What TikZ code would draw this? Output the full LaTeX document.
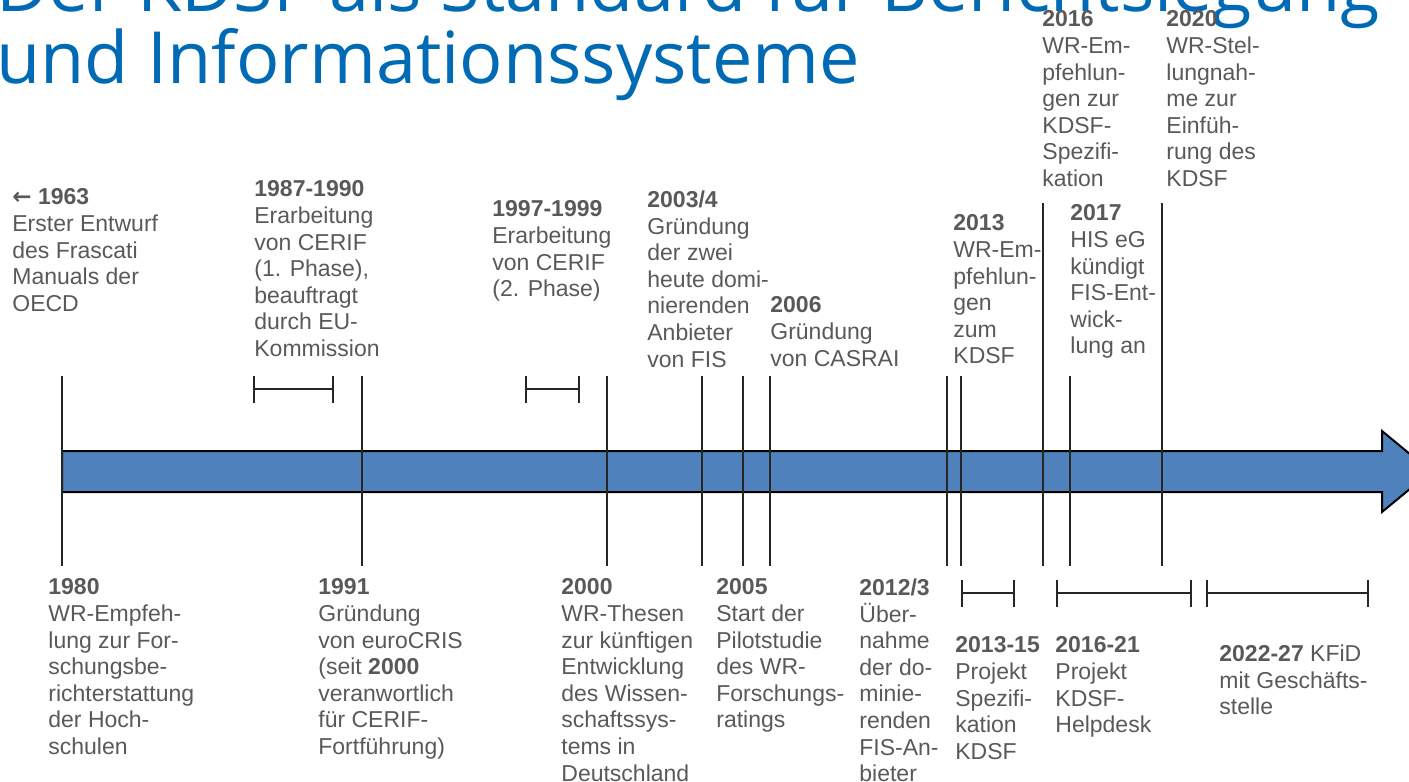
\documentclass[tikz,border=0pt]{standalone}
\usepackage{fontspec}
\setmainfont{Liberation Sans}
\newfontfamily\titlefont{Open Sans}
\newfontfamily\symfont{DejaVu Sans}
\usetikzlibrary{arrows.meta}
\definecolor{barblue}{RGB}{79,129,189}
\definecolor{txtgray}{RGB}{89,89,89}
\definecolor{titleblue}{RGB}{0,106,180}
\begin{document}
\begin{tikzpicture}[x=0.5pt,y=-0.5pt,
    ev/.style={anchor=north west,inner sep=0pt,align=left,text=txtgray,font=\fontsize{11.5}{13.3}\selectfont},
    ttl/.style={anchor=base west,inner sep=0pt,text=titleblue,font=\titlefont\fontsize{36}{36}\selectfont},
    tick/.style={line width=1pt,black!85},
    span/.style={{Bar[width=13.5pt]}-{Bar[width=13.5pt]},line width=0.8pt,black!85},
    timebar/.style={fill=barblue,draw=black,line width=1pt,line join=miter}]
    \useasboundingbox (0,0) rectangle (1409,782);
    \clip (0,0) rectangle (1409,782);
    % Titel
    \path node[ttl] (t1) at (-4,11) {Der KDSF als Standard für Berichtslegung}
          node[ttl] (t2) at (-4,83) {und Informationssysteme};
    % Zeitstrahl
    \draw[timebar] (62,451) -- (1382,451) -- (1382,431) -- (1431,471.5) -- (1382,512) -- (1382,492) -- (62,492) -- cycle;
    % Striche
    \foreach \mx/\mtop in {62/376,362/376,607/376,702/376,743/376,770/376,947/376,961/376,1043/203,1070/376,1162/203}{
        \coordinate (top\mx) at (\mx,\mtop);
        \coordinate (bot\mx) at (\mx,566);
        \draw[tick] (top\mx) -- (bot\mx);
    }
    % Zeitraeume
    \foreach \ma/\mb/\my in {253/334/389,525/580/389,961/1015/593,1056/1192/593,1206/1369/593}{
        \coordinate (sa\ma) at (\ma,\my);
        \coordinate (sb\ma) at (\mb,\my);
        \draw[span] (sa\ma) -- (sb\ma);
    }
    % Ereignisse oben
    \foreach \mname/\x/\y/\mtext in {
        e1963/12/205/{\textbf{{\symfont ←} 1963}\\Erster Entwurf\\des Frascati\\Manuals der\\OECD},
        e1987/254/197/{\textbf{1987-1990}\\Erarbeitung\\von CERIF\\(1. Phase),\\beauftragt\\durch EU-\\Kommission},
        e1997/492/217/{\textbf{1997-1999}\\Erarbeitung\\von CERIF\\(2. Phase)},
        e2003/647/207/{\textbf{2003/4}\\Gründung\\der zwei\\heute domi-\\nierenden\\Anbieter\\von FIS},
        e2006/770/313/{\textbf{2006}\\Gründung\\von CASRAI},
        e2013/953/231/{\textbf{2013}\\WR-Em-\\pfehlun-\\gen\\zum\\KDSF},
        e2016/1042/27/{\textbf{2016}\\WR-Em-\\pfehlun-\\gen zur\\KDSF-\\Spezifi-\\kation},
        e2017/1070/221/{\textbf{2017}\\HIS eG\\kündigt\\FIS-Ent-\\wick-\\lung an},
        e2020/1166/27/{\textbf{2020}\\WR-Stel-\\lungnah-\\me zur\\Einfüh-\\rung des\\KDSF}}
        \path node[ev] (\mname) at (\x,\y-16.5) {\mtext};
    % Ereignisse unten
    \foreach \mname/\x/\y/\mtext in {
        e1980/48/595/{\textbf{1980}\\WR-Empfeh-\\lung zur For-\\schungsbe-\\richterstattung\\der Hoch-\\schulen},
        e1991/318/595/{\textbf{1991}\\Gründung\\von euroCRIS\\(seit \textbf{2000}\\veranwortlich\\für CERIF-\\Fortführung)},
        e2000/561/595/{\textbf{2000}\\WR-Thesen\\zur künftigen\\Entwicklung\\des Wissen-\\schaftssys-\\tems in\\Deutschland},
        e2005/716/595/{\textbf{2005}\\Start der\\Pilotstudie\\des WR-\\Forschungs-\\ratings},
        e2012/859/595/{\textbf{2012/3}\\Über-\\nahme\\der do-\\minie-\\renden\\FIS-An-\\bieter},
        p2013/955/653/{\textbf{2013-15}\\Projekt\\Spezifi-\\kation\\KDSF},
        p2016/1055/653/{\textbf{2016-21}\\Projekt\\KDSF-\\Helpdesk},
        p2022/1219/661/{\textbf{2022-27} KFiD\\mit Geschäfts-\\stelle}}
        \path node[ev] (\mname) at (\x,\y-16.5) {\mtext};
\end{tikzpicture}
\end{document}
